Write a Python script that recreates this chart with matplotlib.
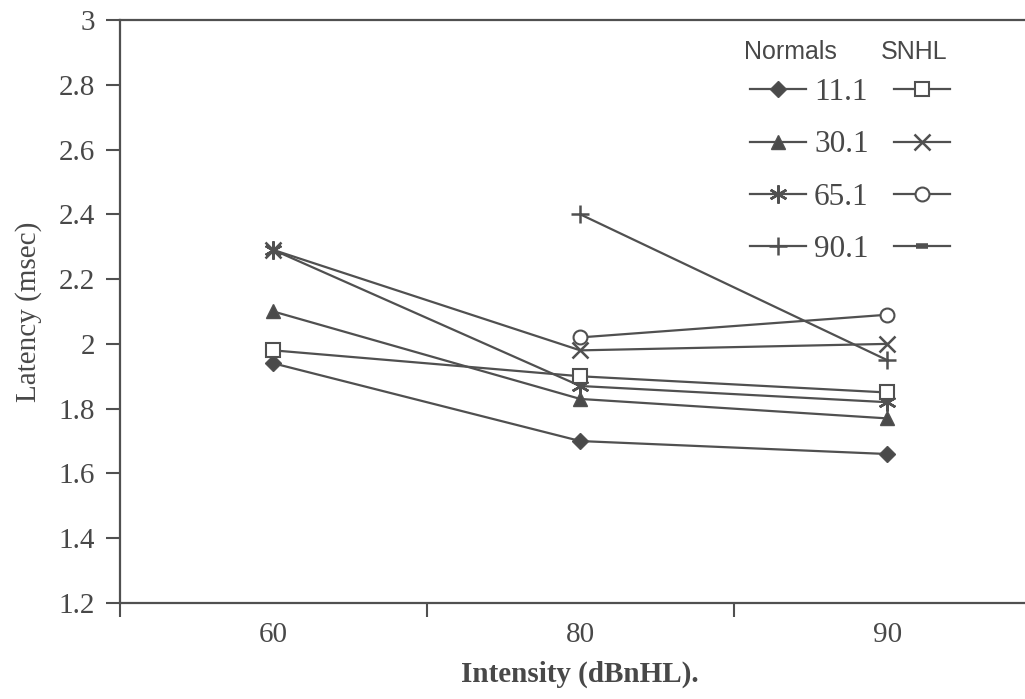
import numpy as np
import matplotlib.pyplot as plt
from matplotlib.ticker import FixedLocator, NullFormatter

# intensity categories (dBnHL)
categories = ["60", "80", "90"]
series_labels = ["11.1", "30.1", "65.1", "90.1"]

# latency (msec), NaN = not measured
normals = {
    "11.1": [1.94, 1.70, 1.66],
    "30.1": [2.10, 1.83, 1.77],
    "65.1": [2.29, 1.87, 1.82],
    "90.1": [np.nan, 2.40, 1.95],
}
snhl = {
    "11.1": [1.98, 1.90, 1.85],
    "30.1": [2.29, 1.98, 2.00],
    "65.1": [np.nan, 2.02, 2.09],
    "90.1": [np.nan, np.nan, np.nan],
}

normal_markers = {
    "11.1": dict(marker="D", ms=8, mfc="#4a4a4a"),
    "30.1": dict(marker="^", ms=10, mfc="#4a4a4a"),
    "65.1": dict(marker=(6, 2, 0), ms=13, mew=1.8),
    "90.1": dict(marker="+", ms=13, mew=1.8),
}
snhl_markers = {
    "11.1": dict(marker="s", ms=10, mfc="white", mew=1.5),
    "30.1": dict(marker="x", ms=11, mew=1.8),
    "65.1": dict(marker="o", ms=10, mfc="white", mew=1.5),
    "90.1": dict(marker="_", ms=9, mew=4),
}

line_color = "#505050"
text_color = "#484848"
serif = "Liberation Serif"
sans = "Liberation Sans"

fig = plt.figure(figsize=(10.25, 6.99), dpi=100)
ax = fig.add_axes([120 / 1025, 1 - 603 / 699, 920.5 / 1025, 583 / 699])

x = np.arange(len(categories))
normal_handles = []
snhl_handles = []
for lab in series_labels:
    h, = ax.plot(x, normals[lab], color=line_color, lw=1.6, mec=line_color,
                 **normal_markers[lab])
    normal_handles.append(h)
for lab in series_labels:
    h, = ax.plot(x, snhl[lab], color=line_color, lw=1.6, mec=line_color,
                 **snhl_markers[lab])
    snhl_handles.append(h)

ax.set_xlim(-0.5, len(categories) - 0.5)
ax.set_ylim(1.2, 3.0)
ax.set_yticks(np.arange(1.2, 3.01, 0.2))
ax.set_yticklabels(["1.2", "1.4", "1.6", "1.8", "2", "2.2", "2.4", "2.6", "2.8", "3"])

# category boundaries get the tick marks, labels sit in between
ax.xaxis.set_major_locator(FixedLocator(np.arange(-0.5, len(categories), 1.0)))
ax.xaxis.set_major_formatter(NullFormatter())
ax.xaxis.set_minor_locator(FixedLocator(x))
ax.set_xticklabels(categories, minor=True)
ax.tick_params(axis="x", which="minor", length=0, pad=14)
ax.tick_params(axis="x", which="major", length=10, width=1.5, direction="out",
               color=line_color)
ax.tick_params(axis="y", length=10, width=1.5, direction="out", color=line_color,
               pad=8)

for lbl in ax.get_xticklabels(minor=True) + ax.get_yticklabels():
    lbl.set_fontfamily(serif)
    lbl.set_fontsize(21)
    lbl.set_color(text_color)

for side in ["left", "bottom", "top"]:
    ax.spines[side].set_color(line_color)
    ax.spines[side].set_linewidth(1.6)
ax.spines["right"].set_visible(False)

ax.set_ylabel("Latency (msec)", fontfamily=serif, fontsize=21, color=text_color,
              labelpad=12)
ax.set_xlabel("Intensity (dBnHL).", fontfamily=serif, fontsize=21,
              fontweight="bold", color=text_color, labelpad=9)

# legend: normals handle + value, then SNHL handle
leg = ax.legend(normal_handles + snhl_handles,
                series_labels + [""] * len(series_labels),
                ncol=2, frameon=False, loc="upper left",
                bbox_to_anchor=(750 / 1025, 1 - 78 / 699),
                bbox_transform=fig.transFigure, borderaxespad=0, borderpad=0,
                handlelength=1.8, handletextpad=0.25, columnspacing=0.8,
                labelspacing=0.75, prop={"family": serif, "size": 22.5})
for t in leg.get_texts():
    t.set_color(text_color)

fig.text(790 / 1025, 1 - 52 / 699, "Normals", fontfamily=sans, fontsize=18,
         color=text_color, ha="center", va="center")
fig.text(914 / 1025, 1 - 52 / 699, "SNHL", fontfamily=sans, fontsize=18,
         color=text_color, ha="center", va="center")

fig.savefig("out.png", dpi=100)
